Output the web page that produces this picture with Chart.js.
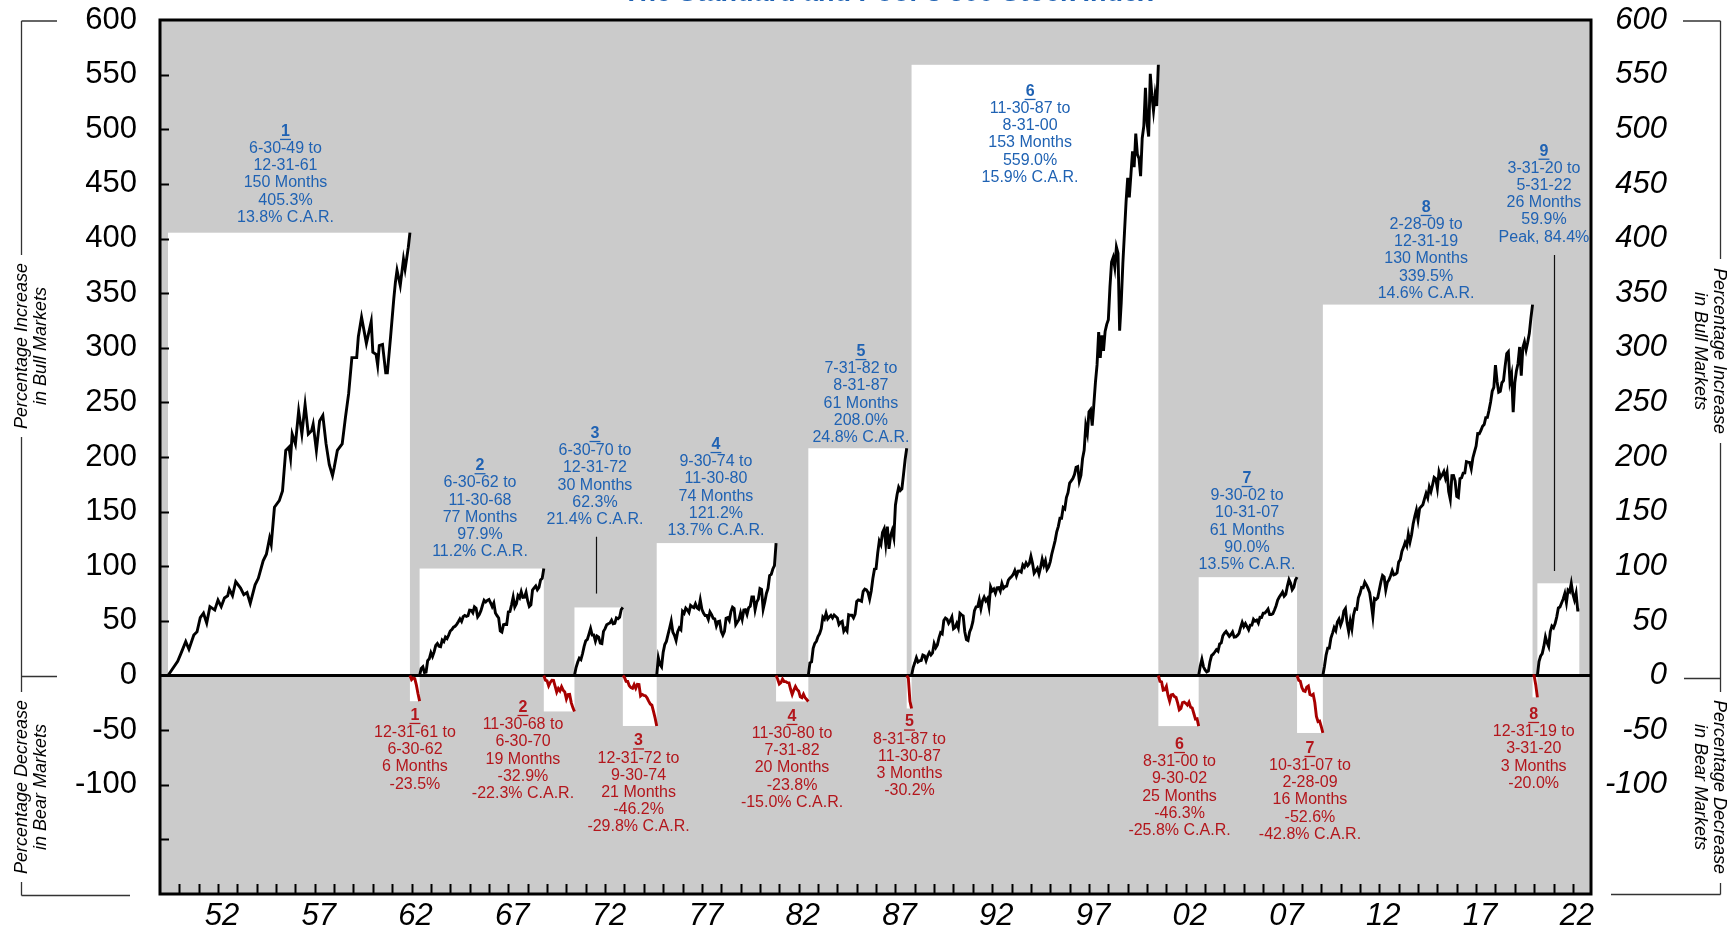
<!DOCTYPE html>
<html><head><meta charset="utf-8">
<script src="https://cdn.jsdelivr.net/npm/chart.js@4.4.0/dist/chart.umd.min.js"></script>
<style>html,body{margin:0;padding:0;background:#fff;overflow:hidden}#wrap{position:relative;width:1735px;height:931px}</style>
</head><body><div id="wrap"><canvas id="c" width="1735" height="931"></canvas></div>
<script>
// ---------- DATA ----------
const titleText = "The Standard and Poor's 500 Stock Index";
const bullStarts = ['6-30-49','6-30-62','6-30-70','9-30-74','7-31-82','11-30-87','9-30-02','2-28-09','3-31-20'];
const bullEnds   = ['12-31-61','11-30-68','12-31-72','11-30-80','8-31-87','8-31-00','10-31-07','12-31-19','5-31-22'];
const bullMonths = [150,77,30,74,61,153,61,130,26];
const bullGains  = [405.3,97.9,62.3,121.2,208.0,559.0,90.0,339.5,59.9];
const bullCAR    = [13.8,11.2,21.4,13.7,24.8,15.9,13.5,14.6,null];
const bull9Peak  = 84.4;
const bearStarts = ['12-31-61','11-30-68','12-31-72','11-30-80','8-31-87','8-31-00','10-31-07','12-31-19'];
const bearEnds   = ['6-30-62','6-30-70','9-30-74','7-31-82','11-30-87','9-30-02','2-28-09','3-31-20'];
const bearMonths = [6,19,21,20,3,25,16,3];
const bearLosses = [-23.5,-32.9,-46.2,-23.8,-30.2,-46.3,-52.6,-20.0];
const bearCAR    = [null,-22.3,-29.8,-15.0,null,-25.8,-42.8,null];

// cumulative % change since start of each market; bull1 given as [month, value] pairs, others monthly
const bull1 = [[0,0],[6,13],[8,20],[11,31],[13,24],[16,37],[18,40],[20,53],[22,57],[24,48],[26,63],[29,60],[31,69],[33,63],[35,71],[37,73],[38,79],[40,73],[42,86],[45,80],[47,74],[49,76],[51,66],[54,83],[56,89],[59,105],[61,111],[63,126],[64,120],[66,154],[69,160],[71,169],[73,206],[75,209],[76,199],[77,221],[79,212],[81,242],[83,221],[85,248],[87,221],[89,224],[90,230],[92,206],[94,233],[96,238],[98,212],[100,193],[102,183],[103,190],[105,206],[108,212],[110,236],[112,258],[114,291],[117,291],[118,310],[120,328],[123,304],[126,324],[127,296],[129,294],[130,284],[131,302],[133,303],[135,277],[136,277],[138,310],[140,345],[141,360],[142,371],[144,357],[146,381],[147,372],[149,392],[150,405.3]];
const bull2 = [0,6.4,8,2.8,3.2,13.7,15.3,20.9,17.4,21.6,27.5,29.3,26.7,26.3,32.4,31,35.2,33.8,37,40.7,42.1,44.3,45.1,46.8,49.2,51.9,49.5,53.8,55,54.2,54.8,59.9,59.7,57.4,62.8,61.5,53.6,55.7,59.2,64.3,68.8,67.3,68.8,69.6,66.6,63,66.3,57.3,54.8,52.7,40.8,39.8,46.5,46.9,46.7,58.2,58.5,64.7,71.7,62.7,65.6,73.1,71,76.6,71.5,71.7,76.2,68.5,63.2,64.7,78.2,80.2,81.9,78.5,80.6,87.5,88.9,97.9];
const bull3 = [0,7.3,12.1,15.8,14.5,19.9,26.7,31.8,33,37.9,42.9,37,37.1,31.4,36.2,35.2,29.6,29.2,40.4,42.9,46.5,47.4,48.1,50.6,47.3,47.7,52.8,52,53.4,60.4,62.3];
const bull4 = [0,16.3,10.1,7.9,21.2,28.4,31.2,37.4,43.5,49.8,39.7,36.7,32,40.1,43.6,41.9,58.7,56.9,61.7,60,57.7,64.1,62.8,62,65.6,61.9,60.7,69.1,60.6,57.1,54.9,54.9,51.3,58.1,55.6,52.3,51.9,45.3,49.2,49.7,40.5,37,40.4,52.4,53,50.3,58.4,62.6,61.4,46.6,49,51.3,57.3,51.5,59.9,60.2,55.9,62,63.4,72,72,60.2,67.1,69.9,79.7,78.9,60.7,67.3,75.1,79.8,91.5,92.6,97.5,100.6,121.2];
const bull5 = [0,11.6,12.4,24.9,29.4,31.3,35.7,38.3,42.8,53.5,51.6,57,51.8,53.5,55.1,52.7,55.4,54,52.6,46.7,48.6,49.5,40.6,43,40.7,55.6,55.1,55.1,52.7,56.2,67.7,69.2,68.7,67.9,77,79.1,78.3,76.1,70,77.3,88.8,97.3,97.8,111.9,123.1,119.9,131,134.2,120.5,136.2,116,127.8,132.7,126.1,155.9,165.4,172.4,169.3,170.9,183.9,197.6,208.0];
const bull6 = [0,7.3,11.6,16.3,12.4,13.5,13.8,18.8,18.1,13.6,18.1,21.1,18.8,20.6,29.2,25.4,28,34.5,39.2,38.1,50.3,52.6,51.6,47.8,50.2,53.5,42.9,44.1,47.6,43.6,56.9,55.5,54.6,40.1,32.9,32,39.9,43.4,49.3,59.4,62.9,63,69.3,61.2,68.4,71.7,68.4,70.4,62.9,81.1,77.5,79.2,75.3,80.2,80.4,77.2,84.2,79.8,81.4,81.8,87.3,89.2,90.5,92.5,96.1,91.1,95.5,95.6,94.6,101.3,99.3,103.1,100.5,102.5,109.1,102.8,93.6,95.8,98.2,92.9,99,106.5,100.9,105.1,97,99.4,104.3,111.6,117.4,123.5,131.6,136.5,144,144,153.8,152.5,162.9,167.4,176.2,178.1,180.3,184,190.5,191.2,177.9,183.1,198.4,206.2,228.7,221.6,241.4,243.4,228.8,248,268.3,284.3,314.4,290.6,311.3,297.1,314.9,321.4,325.6,355.6,378.4,382.7,373.6,392.3,386.6,315.7,341.6,377.1,405.3,433.7,455.6,437.7,458.6,479.8,465.3,496.1,477,473.3,457,491.8,503.1,538,505.5,493.3,550.7,530.7,516.8,531.6,521.3,559.0];
const bull7 = [0,8.6,14.8,7.9,5,3.2,4,12.5,18.2,19.5,21.5,23.6,22.2,28.9,29.8,36.4,38.7,40.4,38.1,35.8,37.5,39.9,35.1,35.4,36.7,38.6,44,48.7,44.9,47.6,44.8,41.9,46.1,46.1,51.4,49.7,50.7,48,53.3,53.1,57,57.1,58.8,60.8,55.8,55.8,56.6,59.9,63.9,69,71.8,74,76.4,72.6,74.3,81.8,87.7,84.4,78.5,80.8,87.3,90.0];
const bull8 = [0,8.5,18.7,25,25.1,34.3,38.8,43.8,41,49,51.7,46.1,50.3,59.1,61.4,48.2,40.2,49.9,42.7,55.2,61,60.6,71.1,75,80.6,80.4,85.5,83,79.7,75.8,65.8,53.9,70.5,69.6,71.1,78.5,85.8,91.6,90.2,78.3,85.3,87.6,91.3,96,92.1,92.7,94,103.8,106.1,113.5,117.3,121.8,118.5,129.3,122.1,128.8,139,145.7,151.4,142.5,153,154.7,156.3,161.7,166.7,162.6,172.5,168.3,174.5,181.3,180.1,171.4,186.3,181.3,183.7,186.7,180.7,186.2,168.3,161.2,182.9,183,178.1,163.9,162.9,180.2,181,185.3,185.5,195.7,195.3,195,189.2,199.1,204.6,210,221.5,221.4,224.3,228.1,229.7,236.1,236.2,242.7,250.3,260.2,263.7,284.1,269.2,259.3,260.2,268,269.8,283.1,294.7,296.4,268.9,275.5,241,267.9,278.8,285.6,300.7,274.4,300.2,305.4,298.1,305,313.2,327.3,339.5];
const bull9 = [0,12.7,17.8,20,26.6,35.4,30.1,26.5,40.1,45.3,43.7,47.5,53.7,61.8,62.7,66.3,70.1,75,66.7,78.2,76.7,84.4,74.7,69.2,75.3,59.9,59.9];
const bear1 = [0,-3.8,-2.2,-2.8,-8.8,-16.7,-23.5];
const bear2 = [0,-4.2,-4.9,-9.4,-6.3,-4.3,-4.5,-9.8,-15.3,-11.9,-14.1,-10.3,-13.4,-15.1,-21.5,-17.4,-17.3,-24.8,-29.4,-32.9];
const bear3 = [0,-1.7,-5.4,-5.5,-9.4,-11.1,-11.7,-8.3,-11.7,-8.1,-8.3,-18.7,-17.4,-18.2,-18.5,-20.4,-23.5,-26.1,-27.2,-32.8,-38.9,-46.2];
const bear4 = [0,-3.4,-7.8,-6.6,-3.2,-5.5,-5.6,-6.6,-6.8,-12.6,-17.3,-13.3,-10.1,-12.8,-14.3,-19.5,-20.3,-17.1,-20.4,-22,-23.8];
const bear5 = [0,-2.4,-23.7,-30.2];
const bear6 = [0,-5.3,-5.8,-13.4,-13,-10,-18.3,-23.5,-17.7,-17.3,-19.3,-20.2,-25.3,-31.4,-30.2,-24.9,-24.4,-25.5,-27.1,-24.4,-29,-29.7,-34.8,-39.9,-39.6,-46.3];
const bear7 = [0,-4.4,-5.2,-11,-14.1,-14.6,-10.6,-9.6,-17.4,-18.2,-17.2,-24.7,-37.5,-42.2,-41.7,-46.7,-52.6];
const bear8 = [0,-0.2,-8.6,-20.0];

const xLabels = ['52','57','62','67','72','77','82','87','92','97','02','07','12','17','22'];
const xLabelYears = [1952,1957,1962,1967,1972,1977,1982,1987,1992,1997,2002,2007,2012,2017,2022];
const yLabels = [600,550,500,450,400,350,300,250,200,150,100,50,0,-50,-100];
const yTickMarks = [550,500,450,400,350,300,250,200,150,100,50,-50,-100,-150];
const leftAxisTitles = [['Percentage Increase','in Bull Markets'],['Percentage Decrease','in Bear Markets']];

// ---------- LAYOUT (annotation anchors in axis units) ----------
const bullNotePos = [[1955.57,498],[1965.62,192],[1971.56,221.5],[1977.81,211.4],[1985.30,296.5],[1994.04,534.6],[2005.25,180.3],[2014.50,428.4],[2020.59,479.9]];
const bearNotePos = [[1962.26,-36.6],[1967.84,-29.3],[1973.81,-59.9],[1981.74,-37.5],[1987.81,-42.6],[2001.76,-63.2],[2008.50,-66.8],[2020.06,-35.7]];
const leaderLines = [[1971.61,127,75],[2021.11,385,95.6]];

const BLUE = '#1f62b3', RED = '#b3161c', LINE_RED = '#a80000', GRAY = '#cbcbcb';
const FONT = "'Liberation Sans', Arial, sans-serif";

function toYear(s){ const p = s.split('-').map(Number); const yy = p[2] < 30 ? 2000 + p[2] : 1900 + p[2]; return yy + p[0]/12; }
function toPoints(start, series){
  const t0 = toYear(start);
  return series.map((d,i)=> Array.isArray(d) ? {x: t0 + d[0]/12, y: d[1]} : {x: t0 + i/12, y: d});
}
const bullSeries = [bull1,bull2,bull3,bull4,bull5,bull6,bull7,bull8,bull9];
const bearSeries = [bear1,bear2,bear3,bear4,bear5,bear6,bear7,bear8];

const datasets = [];
bearSeries.forEach((s,i)=>datasets.push({data: toPoints(bearStarts[i], s), borderColor: LINE_RED, borderWidth: 2.9, pointRadius: 0, tension: 0, fill: false}));
bullSeries.forEach((s,i)=>datasets.push({data: toPoints(bullStarts[i], s), borderColor: '#000', borderWidth: 2.9, pointRadius: 0, tension: 0, fill: false}));

function noteLines(kind, i){
  if (kind === 'bull') {
    const l = [String(i+1), bullStarts[i]+' to', bullEnds[i], bullMonths[i]+' Months', bullGains[i].toFixed(1)+'%'];
    l.push(bullCAR[i] != null ? bullCAR[i].toFixed(1)+'% C.A.R.' : 'Peak, '+bull9Peak.toFixed(1)+'%');
    return l;
  }
  const l = [String(i+1), bearStarts[i]+' to', bearEnds[i], bearMonths[i]+' Months', bearLosses[i].toFixed(1)+'%'];
  if (bearCAR[i] != null) l.push(bearCAR[i].toFixed(1)+'% C.A.R.');
  return l;
}

const deco = {
  id: 'deco',
  beforeDatasetsDraw(chart){
    const {ctx, chartArea: a, scales: {x, y}} = chart;
    ctx.save();
    ctx.fillStyle = GRAY;
    ctx.fillRect(a.left, a.top, a.right - a.left, a.bottom - a.top);
    ctx.fillStyle = '#fff';
    const y0 = y.getPixelForValue(0);
    bullStarts.forEach((s,i)=>{
      const x0 = x.getPixelForValue(toYear(s)), x1 = x.getPixelForValue(toYear(bullEnds[i]));
      const yt = y.getPixelForValue(i === 8 ? bull9Peak : bullGains[i]);
      ctx.fillRect(x0, yt, x1 - x0, y0 - yt);
    });
    bearStarts.forEach((s,i)=>{
      const x0 = x.getPixelForValue(toYear(s)), x1 = x.getPixelForValue(toYear(bearEnds[i]));
      const yb = y.getPixelForValue(bearLosses[i]);
      ctx.fillRect(x0, y0, x1 - x0, yb - y0);
    });
    ctx.strokeStyle = '#000'; ctx.lineWidth = 3;
    ctx.beginPath(); ctx.moveTo(a.left, y0); ctx.lineTo(a.right, y0); ctx.stroke();
    ctx.restore();
  },
  afterDatasetsDraw(chart){
    const {ctx, chartArea: a, scales: {x, y}} = chart;
    ctx.save();
    ctx.strokeStyle = '#000'; ctx.lineWidth = 3;
    ctx.strokeRect(a.left, a.top, a.right - a.left, a.bottom - a.top);
    ctx.lineWidth = 2;
    ctx.beginPath();
    for (let yr = 1950; yr <= 2022; yr++) {
      const px = Math.round(x.getPixelForValue(yr + 1/12)) + 0.5;
      ctx.moveTo(px, a.bottom); ctx.lineTo(px, a.bottom - 10);
    }
    yTickMarks.forEach(v=>{
      const py = Math.round(y.getPixelForValue(v)) + 0.5;
      ctx.moveTo(a.left, py); ctx.lineTo(a.left + 9, py);
    });
    ctx.stroke();
    ctx.lineWidth = 1.2; ctx.strokeStyle = '#111';
    leaderLines.forEach(l=>{
      const px = Math.round(x.getPixelForValue(l[0])) + 0.5;
      ctx.beginPath(); ctx.moveTo(px, y.getPixelForValue(l[1])); ctx.lineTo(px, y.getPixelForValue(l[2])); ctx.stroke();
    });
    const drawNote = (lines, cx, cy, color) => {
      ctx.fillStyle = color; ctx.strokeStyle = color; ctx.textAlign = 'center'; ctx.textBaseline = 'middle';
      lines.forEach((t, k)=>{
        const ly = cy + k * 17.2;
        ctx.font = (k === 0 ? 'bold ' : '') + '16px ' + FONT;
        ctx.fillText(t, cx, ly);
        if (k === 0) {
          const w = ctx.measureText(t).width;
          ctx.lineWidth = 1.3;
          ctx.beginPath(); ctx.moveTo(cx - w/2 - 1, ly + 8); ctx.lineTo(cx + w/2 + 1, ly + 8); ctx.stroke();
        }
      });
    };
    bullNotePos.forEach((p,i)=>drawNote(noteLines('bull', i), x.getPixelForValue(p[0]), y.getPixelForValue(p[1]), BLUE));
    bearNotePos.forEach((p,i)=>drawNote(noteLines('bear', i), x.getPixelForValue(p[0]), y.getPixelForValue(p[1]), RED));
    ctx.restore();
  },
  afterDraw(chart){
    const {ctx, chartArea: a, scales: {y}} = chart;
    ctx.save();
    const y0 = Math.round(y.getPixelForValue(0)) + 0.5;
    ctx.strokeStyle = '#333'; ctx.lineWidth = 1.3;
    const seg = (x1,y1,x2,y2)=>{ ctx.beginPath(); ctx.moveTo(x1,y1); ctx.lineTo(x2,y2); ctx.stroke(); };
    const L = 21.5, R = 1720.5;
    seg(L, a.top + 1, 57, a.top + 1); seg(L, a.top + 1, L, 255);
    seg(L, 437, L, 692); seg(L, y0, 57, y0);
    seg(L, 882, L, 895.5); seg(L, 895.5, 130, 895.5);
    seg(1683, a.top + 1, R, a.top + 1); seg(R, a.top + 1, R, 259);
    seg(R, 443, R, 692); seg(1684, y0 + 2, R, y0 + 2);
    seg(R, 883, R, 894.5); seg(1611, 894.5, R, 894.5);
    ctx.fillStyle = '#000'; ctx.textAlign = 'center'; ctx.textBaseline = 'middle';
    ctx.font = 'italic 18px ' + FONT;
    const rotText = (lines, cx1, cx2, cy, ang) => {
      [cx1, cx2].forEach((cx, k)=>{
        ctx.save(); ctx.translate(cx, cy); ctx.rotate(ang); ctx.fillText(lines[k], 0, 0); ctx.restore();
      });
    };
    rotText(leftAxisTitles[0], 22, 41, 346, -Math.PI/2);
    rotText(leftAxisTitles[1], 22, 41, 787, -Math.PI/2);
    rotText(leftAxisTitles[0], 1719, 1700, 351, Math.PI/2);
    rotText(leftAxisTitles[1], 1719, 1700, 787, Math.PI/2);
    ctx.fillStyle = BLUE; ctx.font = 'bold 27px ' + FONT; ctx.textBaseline = 'alphabetic';
    ctx.fillText(titleText, 888, 1);
    ctx.restore();
  }
};

const noPad = s => { s.paddingTop = 0; s.paddingBottom = 0; s.paddingLeft = 0; s.paddingRight = 0; };
Chart.defaults.font.family = FONT;
new Chart(document.getElementById('c'), {
  type: 'line',
  data: { datasets },
  options: {
    responsive: false, animation: false, devicePixelRatio: 1,
    layout: { padding: { top: 20, left: 0, right: 68, bottom: 0 } },
    plugins: { legend: { display: false }, tooltip: { enabled: false }, title: { display: false } },
    scales: {
      x: {
        type: 'linear', position: 'bottom', min: 1949.087, max: 2023.02,
        afterBuildTicks: s => { s.ticks = xLabelYears.map(v => ({ value: v + 1/12 })); },
        afterFit: s => { s.height = 37; noPad(s); },
        grid: { display: true, drawOnChartArea: false, drawTicks: false },
        border: { display: false },
        ticks: { autoSkip: false, maxRotation: 0, padding: 4, labelOffset: 4, color: '#000',
          font: { size: 31, style: 'italic' }, callback: (v, i) => xLabels[i] }
      },
      y: {
        type: 'linear', position: 'left', min: -200, max: 600,
        afterBuildTicks: s => { s.ticks = yLabels.map(v => ({ value: v })); },
        afterFit: s => { s.width = 160; noPad(s); },
        grid: { display: true, drawOnChartArea: false, drawTicks: false },
        border: { display: false },
        ticks: { padding: 23, color: '#000', font: { size: 31 }, callback: v => String(v) }
      },
      y2: {
        type: 'linear', position: 'right', min: -200, max: 600,
        afterBuildTicks: s => { s.ticks = yLabels.map(v => ({ value: v })); },
        afterFit: s => { s.width = 76; noPad(s); },
        grid: { display: true, drawOnChartArea: false, drawTicks: false },
        border: { display: false },
        ticks: { padding: 14, crossAlign: 'far', color: '#000', font: { size: 31, style: 'italic' }, callback: v => String(v) }
      }
    }
  },
  plugins: [deco]
});
</script></body></html>
